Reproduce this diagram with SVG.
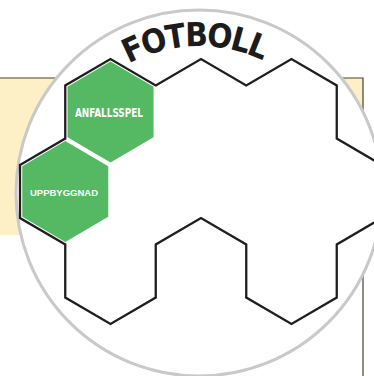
<svg xmlns="http://www.w3.org/2000/svg" width="374" height="376" viewBox="0 0 374 376">
  <style>
    .hexline { fill: none; stroke: #1e1e1e; stroke-width: 2.3; stroke-linejoin: miter; }
    .green { fill: #55b862; }
    .lbl { fill: #ffffff; font-weight: bold; text-anchor: middle; }
    .frame { fill: none; stroke: #4a4232; stroke-width: 1.2; }
  </style>
  <defs>
    <path id="titleArc" d="M 51,194 A 148 148 0 0 1 347,194"/>
  </defs>
  <g id="background">
    <rect x="0" y="78" width="363" height="157" fill="#fdefc6"/>
    <path class="frame" d="M 0,78 H 363 V 376"/>
  </g>
  <g id="ball">
    <circle cx="199" cy="193" r="183" fill="#ffffff" stroke="#c9c9c9" stroke-width="3"/>
  </g>
  <g id="connectors">
    <path class="hexline" d="M 20,165 L 65.25,138.5 L 65.25,85.5 L 110.5,59 L 155.75,85.5 L 201,59 L 246.25,85.5 L 291.5,59 L 336.75,85.5 L 336.75,138.5 L 382,165 L 382,218 L 336.75,244.5 L 336.75,297.5 L 291.5,324 L 246.25,297.5 L 246.25,244.5 L 201,218 L 155.75,244.5 L 155.75,297.5 L 110.5,324 L 65.25,297.5 L 65.25,244.5 L 20,218 Z"/>
  </g>
  <g id="title">
    <text font-family="'DejaVu Sans Condensed', 'DejaVu Sans', sans-serif" font-weight="bold" font-size="33" letter-spacing="-2" fill="#1c1c1c" text-anchor="middle"><textPath href="#titleArc" startOffset="49%">FOTBOLL</textPath></text>
  </g>
  <g id="anfallsspel">
    <polygon class="green" points="110.5,61.6 153.5,86.8 153.5,137.2 110.5,162.4 67.5,137.2 67.5,86.8"/>
    <text class="lbl" x="109" y="117" font-family="'DejaVu Sans Condensed', 'DejaVu Sans', sans-serif" font-size="12.5" textLength="68" lengthAdjust="spacingAndGlyphs">ANFALLSSPEL</text>
  </g>
  <g id="uppbyggnad">
    <polygon class="green" points="65.25,141.1 108.25,166.3 108.25,216.7 65.25,241.9 22.25,216.7 22.25,166.3"/>
    <text class="lbl" x="64" y="196" font-family="'Liberation Sans', Arial, sans-serif" font-size="9.5" textLength="68" lengthAdjust="spacingAndGlyphs">UPPBYGGNAD</text>
  </g>
</svg>
